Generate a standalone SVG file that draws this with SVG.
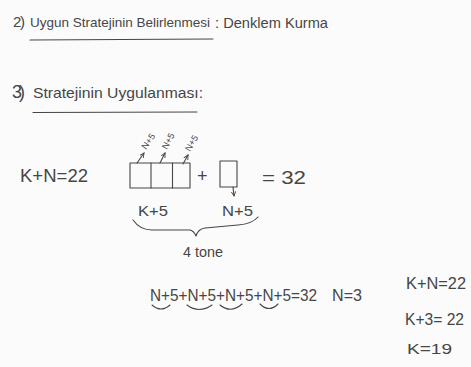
<svg xmlns="http://www.w3.org/2000/svg" width="471" height="367" viewBox="0 0 471 367">
<style>
text{font-family:"Liberation Sans","DejaVu Sans",sans-serif;fill:#464646}
.s{fill:none;stroke:#464646;stroke-width:1.1;stroke-linecap:round;stroke-linejoin:round}
.h1{font-size:15px}
.m{font-size:18px}
.r{font-size:9px}
</style>
<defs>
<marker id="ah" viewBox="0 0 6 6" refX="5" refY="3" markerWidth="5" markerHeight="5" orient="auto"><path d="M0,0.5 L5,3 L0,5.5" fill="none" stroke="#464646" stroke-width="1"/></marker>
</defs>
<rect width="471" height="367" fill="#fbfbfb"/>
<g id="step2">
<text class="h1" x="13" y="27" textLength="12">2)</text>
<text x="30" y="27" style="font-size:13.5px">Uygun Stratejinin Belirlenmesi</text>
<text class="h1" x="215" y="28" textLength="113" lengthAdjust="spacingAndGlyphs">: Denklem Kurma</text>
<path class="s" d="M30,40 L213,39"/>
</g>
<g id="step3">
<text class="h1" x="12" y="98" textLength="13" style="font-size:18px">3)</text>
<text class="h1" x="33" y="98" textLength="170" lengthAdjust="spacingAndGlyphs">Stratejinin Uygulanması:</text>
<path class="s" d="M33,112.5 L197,112"/>
</g>
<g id="eq1">
<text class="m" x="20" y="182" textLength="68" lengthAdjust="spacingAndGlyphs">K+N=22</text>
</g>
<g id="boxes">
<rect class="s" x="130" y="163" width="60" height="25"/>
<path class="s" d="M151,163 V188 M172.5,163 V188"/>
<text class="m" x="197" y="182">+</text>
<rect class="s" x="220" y="161" width="17" height="26"/>
<text class="m" x="262" y="184" textLength="44" lengthAdjust="spacingAndGlyphs">= 32</text>
<text class="m" x="138" y="216" textLength="30" lengthAdjust="spacingAndGlyphs" style="font-size:15px">K+5</text>
<text class="m" x="222" y="216" textLength="31" lengthAdjust="spacingAndGlyphs" style="font-size:15px">N+5</text>
<text class="m" x="183" y="257" textLength="40" lengthAdjust="spacingAndGlyphs" style="font-size:14px">4 tone</text>
<text class="r" transform="translate(146,150) rotate(-55)">N+5</text>
<text class="r" transform="translate(167,150) rotate(-62)">N+5</text>
<text class="r" transform="translate(190,152) rotate(-60)">N+5</text>
</g>
<g id="connectors">
<path class="s" d="M137,163 L144,153" marker-end="url(#ah)"/>
<path class="s" d="M160,163 L165,153" marker-end="url(#ah)"/>
<path class="s" d="M183,164 L188,155" marker-end="url(#ah)"/>
<path class="s" d="M233,187 L234,196" marker-end="url(#ah)"/>
<path class="s" d="M133,220 Q140,230 152,230 L190,230 Q194,231 196,236 Q198,229 205,228 L238,225 Q252,224 258,217"/>
</g>
<g id="eq2">
<text class="m" x="150" y="301" textLength="167" lengthAdjust="spacingAndGlyphs" style="font-size:16px">N+5+N+5+N+5+N+5=32</text>
<text class="m" x="332" y="301" textLength="30" lengthAdjust="spacingAndGlyphs" style="font-size:16px">N=3</text>
<path class="s" d="M152,305 Q161,313 170,305 M187,305 Q199,314 212,305 M220,305 Q231,314 242,304 M260,304 Q269,313 278,304"/>
</g>
<g id="eq3">
<text class="m" x="406" y="289" textLength="60" lengthAdjust="spacingAndGlyphs" style="font-size:16px">K+N=22</text>
<text class="m" x="405" y="325" textLength="59" lengthAdjust="spacingAndGlyphs" style="font-size:16px">K+3= 22</text>
<text class="m" x="407" y="354" textLength="45" lengthAdjust="spacingAndGlyphs" style="font-size:15px">K=19</text>
</g>
</svg>
